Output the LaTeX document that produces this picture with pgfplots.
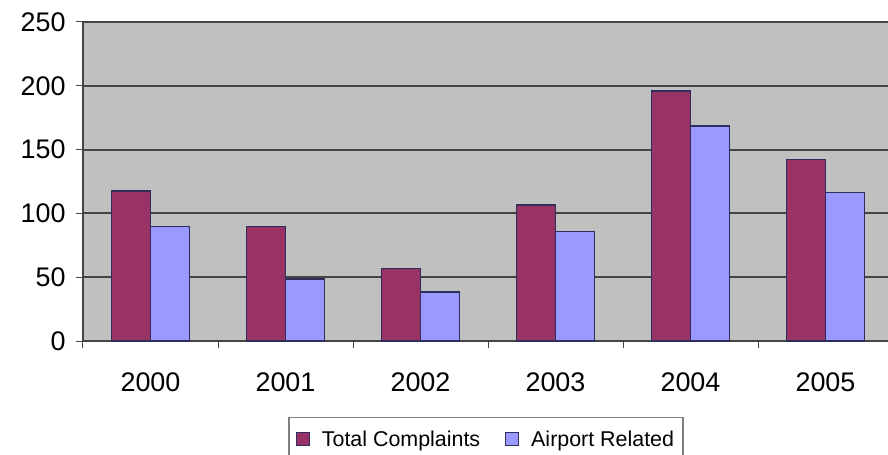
\documentclass[border=0pt]{standalone}
\usepackage{fontspec}
\setmainfont{Liberation Sans}
\usepackage{pgfplots}
\pgfplotsset{compat=1.18}

\definecolor{bgray}{HTML}{C0C0C0}
\definecolor{maroon}{HTML}{993366}
\definecolor{lblue}{HTML}{9999FF}
\definecolor{edge}{HTML}{2E2E5C}
\definecolor{gridc}{HTML}{454545}

\begin{document}
\begin{tikzpicture}
\useasboundingbox (-83bp,-114bp) rectangle (805bp,341bp);
\clip (-83bp,-114bp) rectangle (805bp,341bp);
\begin{axis}[
	scale only axis,
	width=805bp, height=319bp,
	ybar=0pt,
	bar width=39bp,
	xmin=-0.5, xmax=5.463,
	ymin=0, ymax=250,
	ytick={0,50,...,250},
	xtick={0,...,5},
	xticklabels={2000,2001,2002,2003,2004,2005},
	minor xtick={-0.5,0.5,...,5.5},
	axis lines=left,
	axis line style={-, draw=gridc, line width=1.2bp},
	axis background/.style={fill=bgray},
	ymajorgrids,
	grid style={draw=gridc, line width=2bp},
	major tick length=7bp,
	minor tick length=7bp,
	tick align=outside,
	tick style={draw=gridc, line width=1bp},
	x tick style={draw=none},
	minor x tick style={draw=gridc, line width=1bp},
	/pgf/number format/assume math mode=true,
	tick label style={font=\fontsize{27}{32}\selectfont},
	xticklabel style={yshift=-21bp},
	yticklabel style={xshift=-7bp},
	legend columns=2,
	legend style={
		at={(rel axis cs:0.5006,-0.238)}, anchor=north,
		draw=gray, fill=white, line width=1.5bp,
		font=\fontsize{21.5}{26}\selectfont,
		/tikz/every odd column/.append style={column sep=10bp},
		/tikz/every even column/.append style={column sep=23bp},
		inner ysep=11bp, inner xsep=7bp,
	},
	legend image code/.code={
		\draw[#1, line width=1bp] (0bp,-6bp) rectangle (13bp,7bp);
	},
]
\addplot[fill=maroon, draw=edge, line width=1.3bp] coordinates {
	(0,117.5) (1,90) (2,57) (3,106.6) (4,196) (5,142.4)
};
\addplot[fill=lblue, draw=edge, line width=1.3bp] coordinates {
	(0,89.6) (1,48.6) (2,38.4) (3,86) (4,168.5) (5,116.2)
};
\legend{Total Complaints, Airport Related}
\end{axis}
\end{tikzpicture}
\end{document}
